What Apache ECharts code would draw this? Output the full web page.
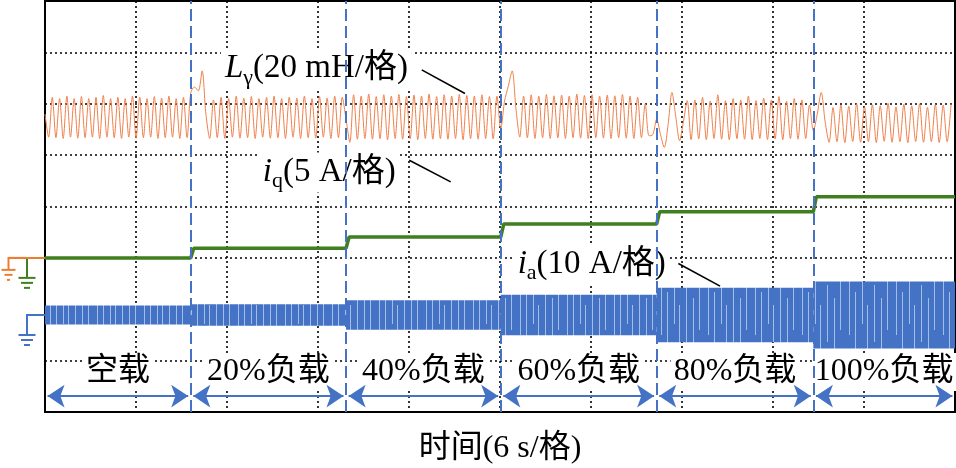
<!DOCTYPE html>
<html><head><meta charset="utf-8">
<script src="https://cdn.jsdelivr.net/npm/echarts@6/dist/echarts.min.js"></script>
<style>html,body{margin:0;padding:0;background:#fff}#c{width:956px;height:468px}</style>
</head><body><div id="c"></div>
<script>
// ---------- data ----------
const xTitle = '时间(6 s/格)';
const loadNames = ['空载', '20%负载', '40%负载', '60%负载', '80%负载', '100%负载'];
const switchTimes = [9.61, 19.85, 30.05, 40.33, 50.66];   // s, load steps
const timeSpan = [0, 60];                                  // 10 div x 6 s
// q-axis current per load step (A)
const iqLevels = [0, 0.93, 2.03, 3.3, 4.5, 5.95];
// phase current amplitude per load step (A)
const iaAmp = [1.85, 2.1, 2.85, 3.95, 5.3, 6.5];
// L_gamma samples (mH), evenly spaced inside each load segment
const lg1 = [56, 47, 62.5, 46.8, 62, 46.5, 63, 47, 62, 46.6, 62.8, 46.8, 62, 47, 62.5, 46.5, 63.2, 47, 62, 46.8, 62.5, 46.5, 62, 47, 63, 46.6, 62.5, 46.8, 62, 47, 62.8, 46.5, 62.2, 46.8, 63, 47, 62, 46.5, 62.5, 46.8];
const lg2 = [64.3, 66.5, 65, 72.8, 56, 46.5, 61.5, 46.8, 62.5, 46.5, 62, 47, 63, 46.6, 62.2, 46.8, 62.8, 46.5, 62, 47, 62.5, 46.6, 63, 46.8, 62, 46.5, 62.6, 47, 62.2, 46.5, 63, 46.8, 62, 46.6, 62.8, 47, 62.2, 46.5, 63, 46.8, 62.5];
const lg3 = [54, 45, 63.5, 46.2, 63, 46.5, 63.8, 46.2, 62.8, 46.4, 63.5, 46, 63, 46.5, 63.6, 46.2, 62.8, 46.4, 63.4, 46, 63, 46.5, 63.8, 46.2, 62.8, 46.4, 63.5, 46.2, 63, 46.5, 63.6, 46, 63.2, 46.4, 63, 46.2, 63.5, 46.5, 62.8, 46.3, 63];
const lg4 = [50.3, 61, 67, 72.8, 58, 47, 63, 46.7, 63.5, 46.5, 63, 46.8, 63.6, 46.5, 63.1, 46.7, 63.4, 46.5, 63, 46.8, 63.8, 46.6, 63.2, 46.5, 63.5, 46.8, 63, 46.6, 63.4, 46.5, 63.1, 46.8, 63.6, 46.6, 63, 46.5, 62.5, 46.8, 60, 47.5, 48];
const lg5 = [54, 48, 43, 52, 64.4, 55, 45.6, 53, 61.2, 46, 61.5, 46.3, 62.5, 46, 61, 46.5, 63.5, 46.2, 61.2, 46, 62, 46.4, 61.5, 46.2, 63, 46, 61.2, 46.5, 62.2, 46.1, 61.5, 46.3, 62.8, 46, 61, 46.4, 62, 46.2, 61.5, 46.5, 59.5];
const lg6 = [49.5, 56, 64.4, 53, 45, 58.5, 45.2, 59.5, 44.8, 59, 45.3, 60, 45, 58.8, 45.2, 59.6, 44.9, 59.2, 45.4, 60.2, 45, 58.8, 45.2, 59.8, 44.8, 59.2, 45.3, 60, 45, 58.6, 45.2, 59.6, 44.9, 59.5, 45.2, 60];

// ---------- channel setup (oscilloscope divisions) ----------
const LG_REF = 3, LG_SCALE = 20;     // mH / div
const IQ_REF = 3, IQ_SCALE = 5;      // A / div
const IA_REF = 1.888, IA_SCALE = 10; // A / div
const LABEL_DIV = 0.78, ARROW_DIV = 0.31;
const SERIF = "'Liberation Serif','Noto Sans CJK SC',serif";
const BLUE = '#4472C4', GREEN = '#3f7f1f', ORANGE = '#EF7F4A';

const segStart = [timeSpan[0], ...switchTimes];
const segEnd = [...switchTimes, timeSpan[1]];

const lgData = [];
[lg1, lg2, lg3, lg4, lg5, lg6].forEach((seg, k) => {
  const dt = (segEnd[k] - segStart[k]) / seg.length;
  seg.forEach((v, i) => lgData.push([segStart[k] + i * dt, LG_REF + v / LG_SCALE]));
});
const iqData = [];
iqLevels.forEach((lv, k) => {
  if (k > 0) iqData.push([segStart[k] + 0.2, IQ_REF + lv / IQ_SCALE]);
  else iqData.push([segStart[k], IQ_REF + lv / IQ_SCALE]);
  iqData.push([segEnd[k], IQ_REF + lv / IQ_SCALE]);
});
const iaRects = iaAmp.map((a, k) => [segStart[k], segEnd[k], IA_REF + a / IA_SCALE, IA_REF - a / IA_SCALE]);

// band texture (aliased sampling streaks of the scope trace)
const tex = document.createElement('canvas');
tex.width = 47; tex.height = 70;
const tc = tex.getContext('2d');
tc.fillStyle = BLUE; tc.fillRect(0, 0, 47, 70);
tc.fillStyle = '#a3bde8';
[[3, 0, 55], [9, 12, 70], [16, 0, 44], [21, 25, 70], [28, 5, 62], [35, 18, 70], [41, 0, 50]].forEach(s => tc.fillRect(s[0], s[1], 1, s[2] - s[1]));

const chart = echarts.init(document.getElementById('c'));
const dotted = { color: '#000', width: 1.6, type: [2, 3] };
chart.setOption({
  animation: false,
  grid: { left: 45, right: 1, top: 1, bottom: 56, outerBoundsMode: 'none', containLabel: false,
          show: true, borderColor: '#000', borderWidth: 2, backgroundColor: 'transparent' },
  xAxis: {
    type: 'value', min: timeSpan[0], max: timeSpan[1], interval: 6,
    axisLine: { show: false }, axisTick: { show: false }, axisLabel: { show: false },
    splitLine: { show: true, lineStyle: dotted },
    name: xTitle, nameLocation: 'middle', nameGap: 21,
    nameTextStyle: { fontFamily: SERIF, fontSize: 32, color: '#000' }
  },
  yAxis: {
    type: 'value', min: 0, max: 8, interval: 1,
    axisLine: { show: false }, axisTick: { show: false }, axisLabel: { show: false },
    splitLine: { show: true, lineStyle: dotted }
  },
  series: [
    {
      type: 'custom', name: 'ia', data: iaRects, silent: true,
      encode: { x: [0, 1], y: [2, 3] },
      renderItem: (params, api) => {
        const p0 = api.coord([api.value(0), api.value(2)]);
        const p1 = api.coord([api.value(1), api.value(3)]);
        return { type: 'rect', shape: { x: p0[0], y: p0[1], width: p1[0] - p0[0], height: p1[1] - p0[1] },
                 style: { fill: { image: tex, repeat: 'repeat' } } };
      }
    },
    {
      type: 'line', name: 'Lgamma', data: lgData, symbol: 'none', silent: true, smooth: 0.3,
      lineStyle: { color: ORANGE, width: 1 },
      markLine: {
        silent: true, symbol: ['arrow', 'arrow'], symbolSize: 17, label: { show: false },
        lineStyle: { color: BLUE, width: 2, type: 'solid' },
        data: segStart.map((s, k) => [{ coord: [s + 0.17, ARROW_DIV] }, { coord: [segEnd[k] - 0.17, ARROW_DIV] }])
      }
    },
    {
      type: 'line', name: 'iq', data: iqData, symbol: 'none', silent: true,
      lineStyle: { color: GREEN, width: 3.5 },
      markLine: {
        silent: true, symbol: 'none', label: { show: false },
        lineStyle: { color: BLUE, width: 2, type: [12, 5] },
        data: switchTimes.map(t => ({ xAxis: t }))
      }
    }
  ]
});

// ---------- annotations ----------
const px = (t, d) => chart.convertToPixel({ gridIndex: 0 }, [t, d]);
const mainTok = { fontFamily: SERIF, fontSize: 33, lineHeight: 40, color: '#000' };
const itTok = Object.assign({}, mainTok, { fontStyle: 'italic' });
const subTok = { fontFamily: SERIF, fontSize: 22, lineHeight: 22, verticalAlign: 'bottom', color: '#000' };
const annots = [
  { pos: [11.6, 6.68], text: '{i|L}{s|γ}{n|(20 mH/格)}', lead: [[24.84, 6.66], [27.69, 6.20]] },
  { pos: [14.1, 4.66], text: '{i|i}{s|q}{n|(5 A/格)}', lead: [[24.02, 4.90], [26.75, 4.48]] },
  { pos: [30.9, 2.88], text: '{i|i}{s|a}{n|(10 A/格)}', lead: [[41.76, 2.89], [44.51, 2.45]] }
];
const g = [];
annots.forEach(a => {
  const p = px(a.pos[0], a.pos[1]);
  g.push({ type: 'text', z: 3, x: p[0], y: p[1], style: {
    text: a.text, rich: { i: itTok, s: subTok, n: mainTok }, align: 'left', verticalAlign: 'middle',
    backgroundColor: '#fff', padding: [0, 4] } });
  const l0 = px(a.lead[0][0], a.lead[0][1]), l1 = px(a.lead[1][0], a.lead[1][1]);
  g.push({ type: 'line', z: 4, shape: { x1: l0[0], y1: l0[1], x2: l1[0], y2: l1[1] }, style: { stroke: '#000', lineWidth: 1.6 } });
});
loadNames.forEach((name, k) => {
  const p = px((segStart[k] + segEnd[k]) / 2, LABEL_DIV);
  g.push({ type: 'text', z: 1, x: p[0], y: p[1], style: {
    text: name, fontFamily: SERIF, fontSize: 32, fill: '#000', align: 'center', verticalAlign: 'middle',
    backgroundColor: '#fff', padding: [3, 3] } });
});
// ground reference markers
const x0 = px(timeSpan[0], 0)[0];
function ground(yDiv, color, vx, drop, bars) {
  const y = px(timeSpan[0], yDiv)[1];
  const kids = [{ type: 'polyline', shape: { points: [[x0, y], [vx, y], [vx, y + drop]] }, style: { stroke: color, lineWidth: 2, fill: null } }];
  bars.forEach((b, i) => kids.push({ type: 'line', shape: { x1: vx - b, y1: y + drop + i * 5, x2: vx + b, y2: y + drop + i * 5 }, style: { stroke: color, lineWidth: 2 } }));
  return { type: 'group', z: 4, children: kids };
}
g.push(ground(IQ_REF, GREEN, 27, 20, [8.5, 6, 3]));
g.push(ground(LG_REF, '#ED7D31', 8.5, 12, [7, 4, 1.5]));
g.push({ type: 'line', z: 4, shape: { x1: 8.5, y1: px(0, LG_REF)[1], x2: 27, y2: px(0, LG_REF)[1] }, style: { stroke: '#ED7D31', lineWidth: 2 } });
g.push(ground(IA_REF, BLUE, 27, 20, [8.5, 6, 3]));
chart.setOption({ graphic: g });
</script></body></html>
